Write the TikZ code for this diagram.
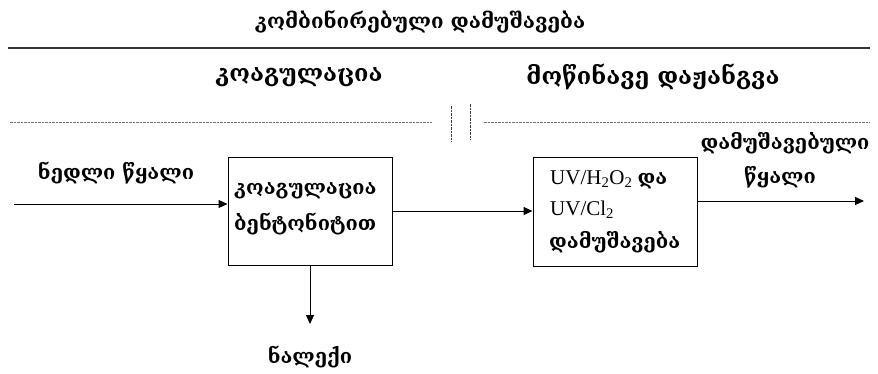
\documentclass[tikz,border=0pt]{standalone}
\usepackage{fontspec}
\usetikzlibrary{arrows.meta}
\newfontfamily\geo{DejaVu Serif}
\newfontfamily\lat{Liberation Serif}
\begin{document}
\begin{tikzpicture}[x=1pt,y=-1pt,
  txt/.style={font=\geo\bfseries\fontsize{20}{22}\selectfont, inner sep=0pt},
  head/.style={font=\geo\bfseries\fontsize{20.5}{23}\selectfont, inner sep=0pt},
  stage/.style={font=\geo\bfseries\fontsize{23.5}{26}\selectfont, inner sep=0pt},
  chem/.style={font=\lat\fontsize{21}{23}\selectfont, inner sep=0pt, anchor=west},
  procbox/.style={draw, line width=1pt, inner sep=0pt},
  flow/.style={-{Triangle[length=9pt,width=8pt]}, line width=1pt},
  sep/.style={line width=0.9pt, black!55, dash pattern=on 2.5pt off 1pt}]
\useasboundingbox (0,0) rectangle (878,373);

% headings
\node[head] (title) at (420,22) {კომბინირებული დამუშავება};
\draw[line width=1.6pt, black!80] (8,48) -- (870,48);
\node[stage] (coag) at (299,77) {კოაგულაცია};
\node[stage] (aop) at (653,77) {მოწინავე დაჟანგვა};

% stage separators
\draw[sep] (10,122) -- (432,122);
\draw[sep] (484,122) -- (870,122);
\draw[sep, black!75] (451,106) -- (451,142);
\draw[sep, black!75] (470,104) -- (470,140);

% process boxes
\node[procbox, minimum width=164pt, minimum height=108pt] (b1) at (310,211) {};
\node[procbox, minimum width=164pt, minimum height=109pt] (b2) at (615,211.5) {};

\node[txt, anchor=west] (b1a) at (234,191) {კოაგულაცია};
\node[txt, anchor=west] (b1b) at (234,224) {ბენტონიტით};
\node[chem] (b2a) at (550,180) {UV/H\textsubscript{2}O\textsubscript{2} {\geo\bfseries\fontsize{20}{22}\selectfont და}};
\node[chem] (b2b) at (550,210) {UV/Cl\textsubscript{2}};
\node[txt, anchor=west] (b2c) at (549,242) {დამუშავება};

% flows
\coordinate (in) at (14,204);
\coordinate (out) at (864,201);
\coordinate (sludge) at (310,324);
\draw[flow] (in) -- (b1.west |- in);
\draw[flow] (b1.east |- 0,211) -- (b2.west |- 0,211);
\draw[flow] (b2.east |- out) -- (out);
\draw[flow] (b1.south) -- (sludge);

\node[txt] (raw) at (116,173) {ნედლი წყალი};
\node[txt] (treated1) at (785,143) {დამუშავებული};
\node[txt] (treated2) at (780,177) {წყალი};
\node[txt] (sed) at (310,357) {ნალექი};
\end{tikzpicture}
\end{document}
